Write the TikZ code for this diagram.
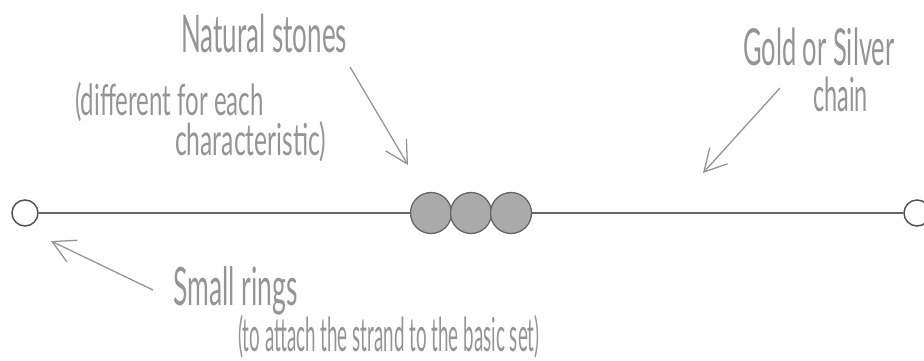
\documentclass[tikz,border=0pt]{standalone}
\usepackage{fontspec}
\setmainfont{Lato}
\newfontfamily\thinfont[FakeStretch=0.5]{Lato}
\newfontfamily\narrowfont[FakeStretch=0.4]{Lato}
\newfontfamily\widefont[FakeStretch=0.56]{Lato}
\usetikzlibrary{arrows.meta}

\definecolor{chaingray}{HTML}{666666}
\definecolor{stonegray}{HTML}{AAAAAA}
\definecolor{inkgray}{HTML}{959595}

\tikzset{
  ring/.style={circle,draw=chaingray!80!black,line width=1.5pt,minimum size=26pt,inner sep=0pt},
  stone/.style={circle,draw=chaingray,fill=stonegray,line width=1.3pt,minimum size=41pt,inner sep=0pt},
  chain/.style={draw=chaingray,line width=2pt},
  tag/.style={anchor=base west,inner sep=0pt,text=inkgray,font=\thinfont},
  pointer/.style={draw=inkgray,line width=1.3pt,-{Straight Barb[length=22pt,width=24pt]}}
}

\begin{document}
\begin{tikzpicture}[x=1pt,y=-1pt]
    \useasboundingbox (0,0) rectangle (924,361);
    \node[ring] (ringL) at (25,213) {};
    \node[ring] (ringR) at (917,213) {};
    \node[stone] (stoneA) at (431,213) {};
    \node[stone] (stoneB) at (471,213) {};
    \node[stone] (stoneC) at (511,213) {};
    \draw[chain] (ringL) -- (stoneA);
    \draw[chain] (stoneC) -- (ringR);

    \node[tag] (stones) at (181,53) {\fontsize{52}{52}\selectfont Natural stones};
    \node[tag,font=\widefont] (diff) at (75,115) {\fontsize{43}{43}\selectfont (different for each};
    \node[tag,font=\widefont] (charac) at (175,155) {\fontsize{44}{44}\selectfont characteristic)};
    \node[tag] (gold) at (743,66) {\fontsize{51}{51}\selectfont Gold or Silver};
    \node[tag] (chainTxt) at (813,111) {\fontsize{47}{47}\selectfont chain};
    \node[tag] (rings) at (173,305) {\fontsize{53}{53}\selectfont Small rings};
    \node[tag,font=\narrowfont] (attach) at (238,351) {\fontsize{47}{47}\selectfont (to attach the strand to the basic set)};

    \coordinate (stonesTail) at (350,67);
    \coordinate (stonesTip) at (408,165);
    \coordinate (goldTail) at (780,88);
    \coordinate (goldTip) at (703,173);
    \coordinate (ringsTail) at (153,290);
    \coordinate (ringsTip) at (51,241);
    \draw[pointer] (stonesTail) -- (stonesTip);
    \draw[pointer] (goldTail) -- (goldTip);
    \draw[pointer] (ringsTail) -- (ringsTip);
\end{tikzpicture}
\end{document}
